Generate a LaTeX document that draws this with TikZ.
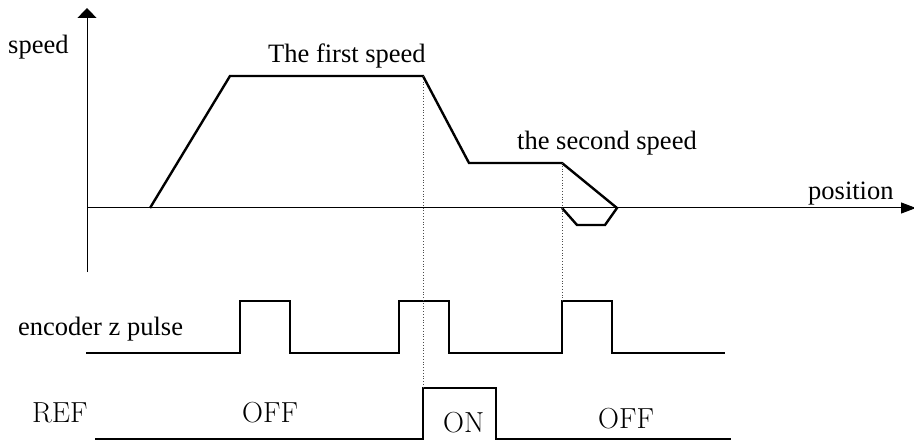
\documentclass[tikz,border=0pt]{standalone}
\usepackage{fontspec}
\usepackage{tikz}
\usetikzlibrary{arrows.meta}
\newfontfamily\timesfont{Liberation Serif}

\begin{document}
\begin{tikzpicture}[x=1pt, y=-1pt,
    lbl/.style={font=\timesfont\fontsize{26.5}{30}\selectfont,
                inner sep=0pt, anchor=base west},
    sig/.style={font=\fontsize{29}{33}\selectfont,
                inner sep=0pt, anchor=base west},
    axis/.style={line width=1pt},
    curve/.style={line width=2.4pt, line join=miter},
    guide/.style={dotted, line width=0.8pt, color=black!70}]

    \useasboundingbox (0,0) rectangle (914,441);

    % Axes
    \coordinate (o)  at (87,208);
    \coordinate (ytop) at (87,8);
    \coordinate (ybot) at (87,272);
    \coordinate (xend) at (916,208);
    \draw[axis, -{Triangle[length=10pt,width=19pt]}] (ybot) -- (ytop);
    \draw[axis, -{Triangle[length=15pt,width=11pt]}] (o) -- (xend);

    % Speed profile
    \coordinate (s0) at (150,208);
    \coordinate (s1) at (230,76);
    \coordinate (s2) at (423,76);
    \coordinate (s3) at (469,163);
    \coordinate (s4) at (562,163);
    \coordinate (s5) at (617,208);
    \draw[curve] (s0) -- (s1) -- (s2) -- (s3) -- (s4) -- (s5)
        -- (605,225) -- (577,225) -- (562,208);

    % Encoder z pulse
    \coordinate (z0) at (86,353);
    \coordinate (z1) at (725,353);
    \draw[curve] (z0) -- (240,353) |- (290,301) |- (399,353)
        |- (449,301) |- (562,353) |- (612,301) |- (z1);

    % REF signal
    \coordinate (r0) at (95,439);
    \coordinate (r1) at (731,439);
    \draw[curve] (r0) -- (423,439) |- (496,388) |- (r1);

    % Guides
    \coordinate (g1) at (423,388);
    \coordinate (g2) at (562,301);
    \draw[guide] (s2) -- (g1);
    \draw[guide] (s4) -- (g2);

    % Labels
    \node[lbl] (speed)  at (8,54)    {speed};
    \node[lbl] (first)  at (268,63)  {The first speed};
    \node[lbl] (second) at (517,150) {the second speed};
    \node[lbl] (pos)    at (808,200) {position};
    \node[lbl] (enc)    at (18,335)  {encoder z pulse};
    \node[sig] (ref)    at (32,422)  {REF};
    \node[sig] (off1)   at (242,422) {OFF};
    \node[sig] (on)     at (443,432) {ON};
    \node[sig] (off2)   at (598,428) {OFF};
\end{tikzpicture}
\end{document}
